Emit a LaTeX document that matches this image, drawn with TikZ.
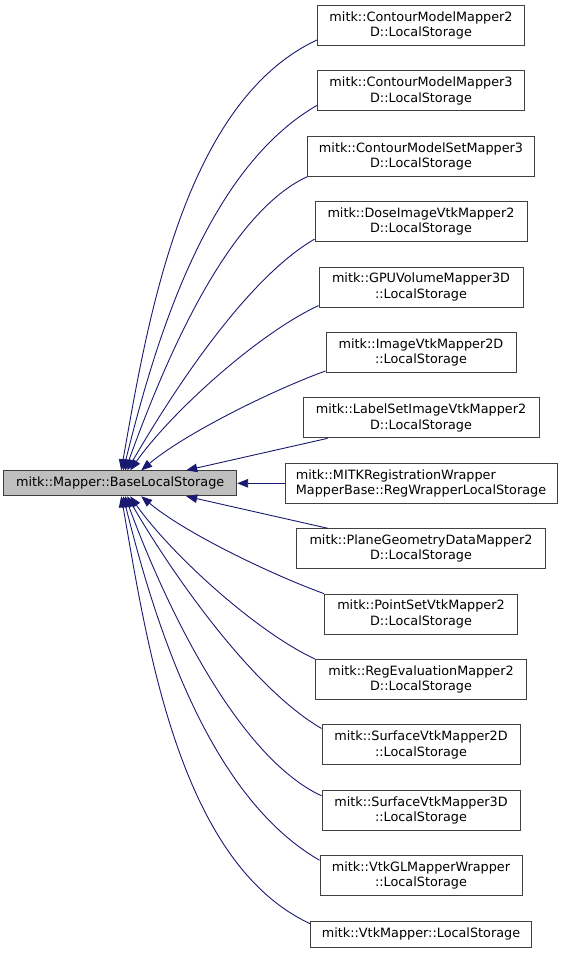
\documentclass[tikz,border=0pt]{standalone}
\usepackage{fontspec}
\setmainfont{DejaVu Sans}
\usetikzlibrary{arrows.meta,positioning}
\definecolor{edgeblue}{HTML}{191970}

\begin{document}
\begin{tikzpicture}
        [
            x = 1pt, y = -1pt,
            > = {Triangle[length=11pt, width=8.5pt]},
            node distance = 24.5pt and 47.4pt,
            klass/.style = {
                draw=black!75, rectangle, line width=0.9pt,
                font=\fontsize{12.8}{15.3}\selectfont, align=center,
                inner xsep=6pt, inner ysep=2pt,
                minimum height=40pt},
            root/.style = {klass, fill=black!25, minimum height=25pt},
            inh/.style = {->, draw=edgeblue, line width=0.9pt}
        ]
        \useasboundingbox (0,0) rectangle (563,953);
        \node [klass, minimum width=207pt] (CM2D) at (421,25.5) {mitk::ContourModelMapper2\\D::LocalStorage};
        \node [klass, minimum width=207pt] (CM3D) [below=of CM2D] {mitk::ContourModelMapper3\\D::LocalStorage};
        \node [klass, minimum width=227pt] (CMS3D) [below=of CM3D] {mitk::ContourModelSetMapper3\\D::LocalStorage};
        \node [klass, minimum width=212pt] (Dose2D) [below=of CMS3D] {mitk::DoseImageVtkMapper2\\D::LocalStorage};
        \node [klass, minimum width=204pt] (GPU3D) [below=of Dose2D] {mitk::GPUVolumeMapper3D\\::LocalStorage};
        \node [klass, minimum width=190pt] (Img2D) [below=of GPU3D] {mitk::ImageVtkMapper2D\\::LocalStorage};
        \node [klass, minimum width=236pt] (LSImg2D) [below=of Img2D] {mitk::LabelSetImageVtkMapper2\\D::LocalStorage};
        \node [klass, align=left, minimum width=272pt] (RegWrap) [below=of LSImg2D] {mitk::MITKRegistrationWrapper\\MapperBase::RegWrapperLocalStorage};
        \node [klass, minimum width=249pt] (PGD2D) [below=of RegWrap] {mitk::PlaneGeometryDataMapper2\\D::LocalStorage};
        \node [klass, minimum width=193pt] (PS2D) [below=of PGD2D] {mitk::PointSetVtkMapper2\\D::LocalStorage};
        \node [klass, minimum width=211pt] (RegEval2D) [below=of PS2D] {mitk::RegEvaluationMapper2\\D::LocalStorage};
        \node [klass, minimum width=198pt] (Surf2D) [below=of RegEval2D] {mitk::SurfaceVtkMapper2D\\::LocalStorage};
        \node [klass, minimum width=198pt] (Surf3D) [below=of Surf2D] {mitk::SurfaceVtkMapper3D\\::LocalStorage};
        \node [klass, minimum width=202pt] (VtkGL) [below=of Surf3D] {mitk::VtkGLMapperWrapper\\::LocalStorage};
        \node [klass, minimum width=221pt, minimum height=26pt] (Vtk) [below=of VtkGL] {mitk::VtkMapper::LocalStorage};
        \node [root, minimum width=233pt] (BaseLS) [left=of RegWrap] {mitk::Mapper::BaseLocalStorage};
        % classes above the base
        \draw [inh] ([yshift=6pt]CM2D.south west) to [out=205, in=80, looseness=.8] ([xshift=1pt]BaseLS.north);
        \draw [inh] ([yshift=6pt]CM3D.south west) to [out=210, in=76, looseness=.8] ([xshift=3pt]BaseLS.north);
        \draw [inh] (CMS3D.south west) to [out=205, in=70, looseness=.7] ([xshift=5pt]BaseLS.north);
        \draw [inh] ([yshift=3pt]Dose2D.south west) to [out=210, in=60, looseness=.7] ([xshift=7pt]BaseLS.north);
        \draw [inh] ([yshift=2pt]GPU3D.south west) to [out=205, in=55, looseness=.7] ([xshift=10pt]BaseLS.north);
        \draw [inh] ([yshift=2pt]Img2D.south west) to [out=200, in=40, looseness=.7] ([xshift=21pt]BaseLS.north);
        \draw [inh] ([xshift=25pt]LSImg2D.south west) -- ([xshift=66pt]BaseLS.north);
        \draw [inh] (RegWrap) -- (BaseLS);
        % classes below the base
        \draw [inh] ([xshift=31.6pt]PGD2D.north west) -- ([xshift=66pt]BaseLS.south);
        \draw [inh] (PS2D.north west) to [out=160, in=-40, looseness=.7] ([xshift=21pt]BaseLS.south);
        \draw [inh] (RegEval2D.north west) to [out=155, in=-55, looseness=.7] ([xshift=10pt]BaseLS.south);
        \draw [inh] ([yshift=-4pt]Surf2D.north west) to [out=150, in=-60, looseness=.7] ([xshift=7pt]BaseLS.south);
        \draw [inh] ([yshift=-6pt]Surf3D.north west) to [out=155, in=-70, looseness=.7] ([xshift=5pt]BaseLS.south);
        \draw [inh] ([yshift=-5pt]VtkGL.north west) to [out=150, in=-76, looseness=.8] ([xshift=3pt]BaseLS.south);
        \draw [inh] ([yshift=-3pt]Vtk.north west) to [out=155, in=-80, looseness=.8] ([xshift=1pt]BaseLS.south);
    \end{tikzpicture}
\end{document}
